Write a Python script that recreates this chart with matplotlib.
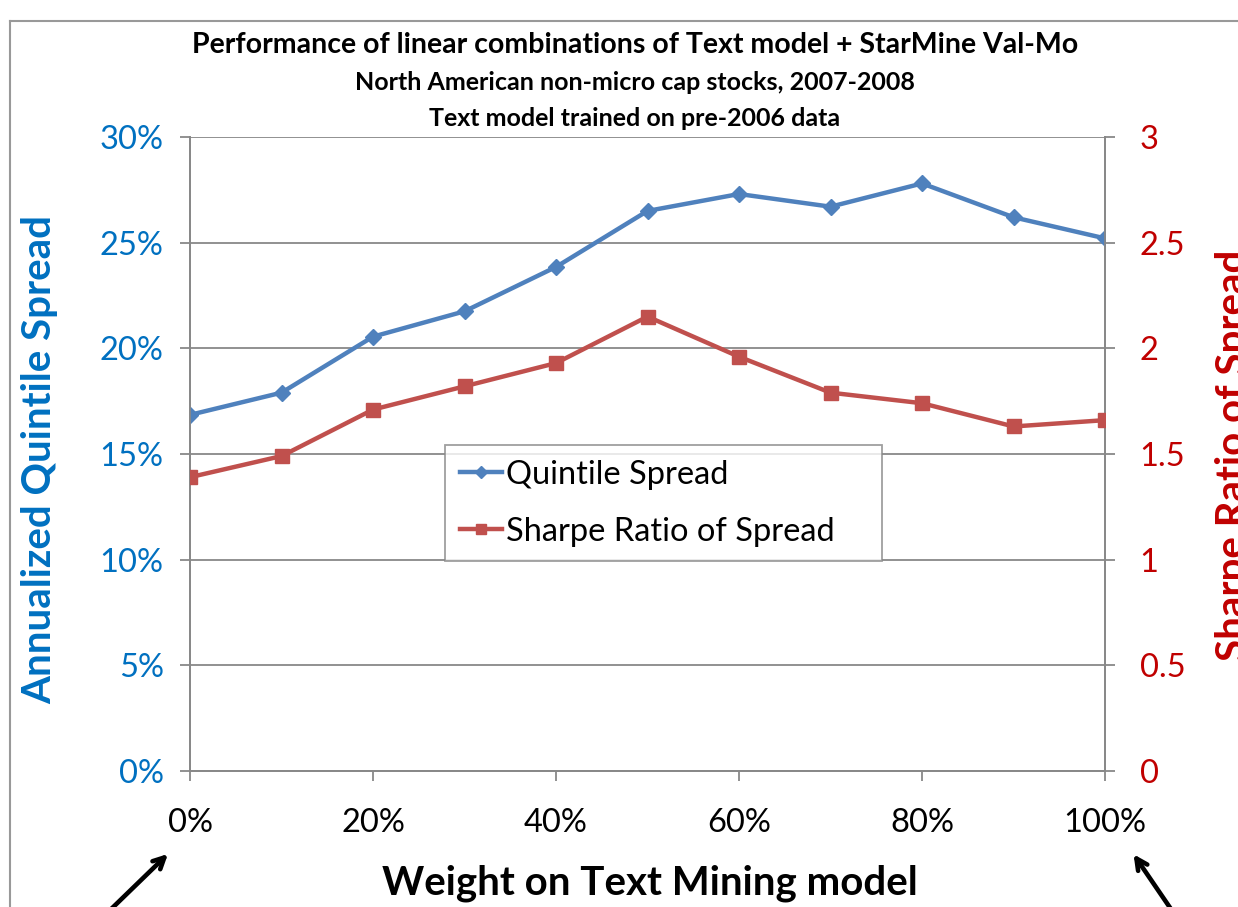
"""
    Text model + StarMine Val-Mo blend: quintile spread and Sharpe ratio
"""

import matplotlib.pyplot as plt
from matplotlib.ticker import FuncFormatter

plt.rcParams['font.family'] = ['Lato', 'DejaVu Sans']

# weight on text mining model (%)
weights = [0, 10, 20, 30, 40, 50, 60, 70, 80, 90, 100]
# annualized quintile spread (%)
spread = [16.85, 17.9, 20.55, 21.75, 23.85, 26.5, 27.3, 26.7, 27.8, 26.2, 25.2]
# Sharpe ratio of the spread
sharpe = [1.39, 1.49, 1.71, 1.82, 1.93, 2.15, 1.96, 1.79, 1.74, 1.63, 1.66]

x_ticks = [0, 20, 40, 60, 80, 100]
left_ticks = [0, 5, 10, 15, 20, 25, 30]
right_ticks = [0, 0.5, 1, 1.5, 2, 2.5, 3]

blue_line = '#4F81BD'
red_line = '#C0504D'
blue_text = '#0070C0'
red_text = '#C00000'
grey = '#888888'

fig = plt.figure(figsize=(12.38, 9.07), dpi=100)
ax = fig.add_axes([0.1535, 0.15, 0.7391, 0.699])
ax2 = ax.twinx()

l1, = ax.plot(weights, spread, color=blue_line, lw=3.2, marker='D',
              markersize=8, label='Quintile Spread', zorder=3)
l2, = ax2.plot(weights, sharpe, color=red_line, lw=3.2, marker='s',
               markersize=9.5, label='Sharpe Ratio of Spread', zorder=3)

ax.set_xlim(0, 100)
ax.set_ylim(0, 30)
ax2.set_ylim(0, 3)
ax.set_xticks(x_ticks)
ax.set_xticklabels([f'{v}%' for v in x_ticks])
ax.set_yticks(left_ticks)
ax.yaxis.set_major_formatter(FuncFormatter(lambda v, _: f'{v:.0f}%'))
ax2.set_yticks(right_ticks)
ax2.set_yticklabels([f'{v:g}' for v in right_ticks])

ax.yaxis.grid(True, color=grey, lw=1.3)
ax.set_axisbelow(True)
for a in (ax, ax2):
    a.spines['top'].set_visible(False)
    for s in ('left', 'right', 'bottom'):
        a.spines[s].set_color(grey)
        a.spines[s].set_linewidth(1.3)

ax.tick_params(axis='x', colors=grey, length=7, width=1.3, pad=20,
               labelcolor='black', labelsize=23.5)
ax.tick_params(axis='y', colors=grey, length=7, width=1.3, pad=12,
               labelcolor=blue_text, labelsize=23.5)
ax2.tick_params(axis='y', colors=grey, length=7, width=1.3, pad=18,
                labelcolor=red_text, labelsize=23.5)

# legend box stretched over the same span as in the original chart
leg = ax2.legend(handles=[l1, l2], loc='upper left', mode='expand',
                 bbox_to_anchor=(0.279, 0.333, 0.477, 0.181), fontsize=23.5,
                 fancybox=False, edgecolor=grey, handlelength=1.3,
                 handletextpad=0.1, labelspacing=0.82, borderpad=0.45,
                 borderaxespad=0, markerscale=0.8)
leg.get_frame().set_linewidth(1.3)

# titles and axis labels
fig.text(635 / 1238, 1 - 45 / 907,
         'Performance of linear combinations of Text model + StarMine Val-Mo',
         ha='center', va='center', fontsize=20.5, fontweight='bold')
fig.text(635 / 1238, 1 - 82 / 907,
         'North American non-micro cap stocks, 2007-2008',
         ha='center', va='center', fontsize=18, fontweight='bold')
fig.text(635 / 1238, 1 - 118 / 907, 'Text model trained on pre-2006 data',
         ha='center', va='center', fontsize=18, fontweight='bold')

fig.text(40 / 1238, 1 - 460 / 907, 'Annualized Quintile Spread',
         rotation=90, ha='center', va='center', fontsize=29,
         fontweight='bold', color=blue_text)
fig.text(1234 / 1238, 1 - 455 / 907, 'Sharpe Ratio of Spread',
         rotation=90, ha='center', va='center', fontsize=29,
         fontweight='bold', color=red_text)
fig.text(650 / 1238, 1 - 883 / 907, 'Weight on Text Mining model',
         ha='center', va='center', fontsize=29, fontweight='bold')

# arrows pointing at the ends of the x axis
arrow = dict(arrowstyle='->,head_length=0.8,head_width=0.4', lw=3.3,
             color='black')
ax.annotate('', xy=(170 / 1238, 1 - 852 / 907), xycoords='figure fraction',
            xytext=(105 / 1238, 1 - 915 / 907), textcoords='figure fraction',
            arrowprops=arrow, annotation_clip=False)
ax.annotate('', xy=(1132 / 1238, 1 - 852 / 907), xycoords='figure fraction',
            xytext=(1175 / 1238, 1 - 915 / 907), textcoords='figure fraction',
            arrowprops=arrow, annotation_clip=False)

# outer chart frame
fig.add_artist(plt.Line2D([10 / 1238, 10 / 1238], [0, 1 - 21 / 907],
                          color='#999999', lw=1.5))
fig.add_artist(plt.Line2D([10 / 1238, 1], [1 - 21 / 907, 1 - 21 / 907],
                          color='#999999', lw=1.5))

fig.savefig('out.png', dpi=100)
